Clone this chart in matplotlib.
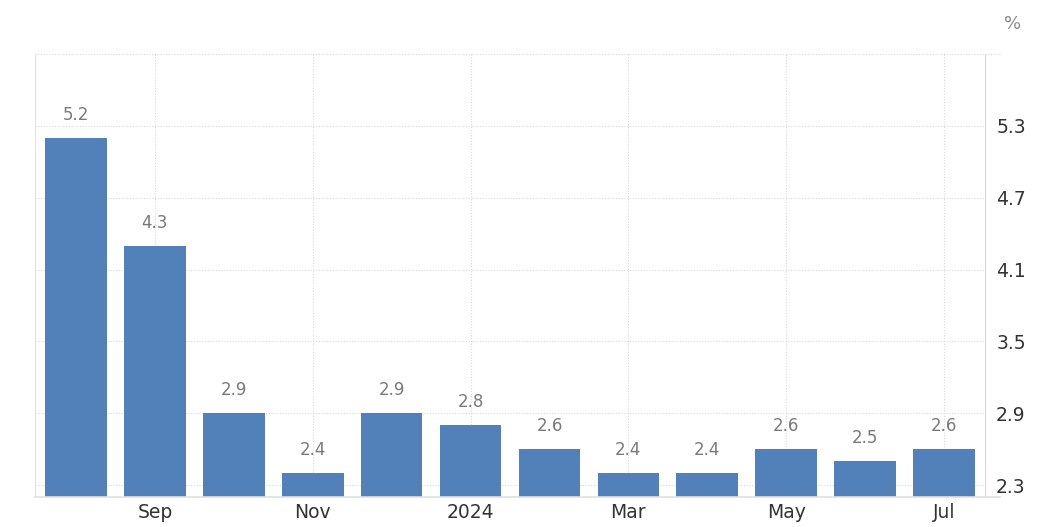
import matplotlib
matplotlib.use("Agg")
import matplotlib.pyplot as plt

months = ["Aug", "Sep", "Oct", "Nov", "Dec", "Jan", "Feb", "Mar", "Apr", "May", "Jun", "Jul"]
values = [5.2, 4.3, 2.9, 2.4, 2.9, 2.8, 2.6, 2.4, 2.4, 2.6, 2.5, 2.6]
xtick_idx = [1, 3, 5, 7, 9, 11]
xtick_labels = ["Sep", "Nov", "2024", "Mar", "May", "Jul"]
yticks = [2.3, 2.9, 3.5, 4.1, 4.7, 5.3]

W, H = 1041, 527
fig = plt.figure(figsize=(W / 100, H / 100), dpi=100)
l, r, t, b = 35, 985, 54, 497
ax = fig.add_axes([l / W, 1 - b / H, (r - l) / W, (b - t) / H])

ymin, ymax = 2.2, 5.9
x = list(range(len(values)))
ax.bar(x, [v - ymin for v in values], bottom=ymin, width=0.78, color="#5181b8", zorder=3)
for xi, v in zip(x, values):
    ax.annotate(f"{v:.1f}", (xi, v), xytext=(0, 10), textcoords="offset points",
                ha="center", va="bottom", color="#7a7a7a", fontsize=12, zorder=4)

ax.set_xlim(-0.52, 11.52)
ax.set_ylim(ymin, ymax)
ax.set_xticks(xtick_idx)
ax.set_xticklabels(xtick_labels, fontsize=13.5, color="#333333")
ax.set_yticks(yticks)
ax.yaxis.tick_right()
ax.set_yticklabels([f"{v:.1f}" for v in yticks], fontsize=13.5, color="#333333")
ax.tick_params(axis="both", length=0)
ax.tick_params(axis="y", pad=8)
ax.tick_params(axis="x", pad=4)

ax.grid(True, color="#d8d8d8", linestyle=(0, (1, 1.5)), linewidth=0.8, zorder=0)
ax.spines["top"].set_visible(False)
ax.spines["left"].set_color("#e4e4e4")
ax.spines["right"].set_color("#d8d8d8")
ax.spines["bottom"].set_visible(False)
ax.plot([-0.52, 11.52 + 15 / 79.2], [ymax, ymax], color="#d8d8d8", linestyle=(0, (1, 1.5)),
        linewidth=0.8, clip_on=False, zorder=1)
ax.plot([-0.52, 11.52 + 15 / 79.2], [ymin, ymin], color="#e0e0e0", linewidth=1.2,
        clip_on=False, zorder=5)

fig.text(1013 / W, 1 - 24 / H, "%", ha="center", va="center", fontsize=13, color="#888888")

fig.savefig("out.png", dpi=100, facecolor="white")
